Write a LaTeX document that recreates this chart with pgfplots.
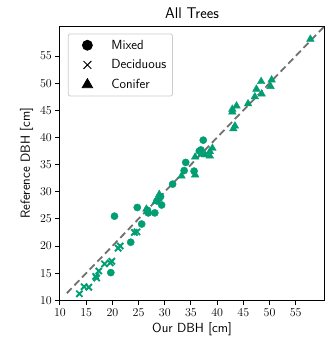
\documentclass[border=0pt]{standalone}
\usepackage{pgfplots}
\pgfplotsset{compat=1.18}
\definecolor{cbgreen}{HTML}{029E73}
\definecolor{dashgrey}{HTML}{707070}
\begin{document}
\begin{tikzpicture}
\begin{axis}[
  at={(0pt,0pt)}, anchor=south west,
  scale only axis,
  width=264pt, height=273.6pt,
  xmin=10, xmax=60.4, ymin=10, ymax=60.4,
  xtick={10,15,...,55}, ytick={10,15,...,55},
  tick align=outside, major tick length=4.6pt,
  tick style={black, line width=1pt},
  axis line style={line width=1pt},
  xtick pos=bottom, ytick pos=left,
  tick label style={font=\fontsize{13.2}{15}\selectfont},
  label style={font=\fontsize{13.2}{15}\selectfont\sffamily},
  xlabel={Our DBH [cm]}, ylabel={Reference DBH [cm]},
  title={All Trees},
  title style={font=\fontsize{15.5}{18}\selectfont\sffamily, yshift=-1pt},
  legend cell align=left,
  legend style={font=\fontsize{13.2}{15}\selectfont\sffamily, draw=black!20, rounded corners=2pt, line width=0.8pt, row sep=5pt, inner xsep=4pt, inner ysep=4pt, at={(0.03,0.975)}, anchor=north west},
  legend image code/.code={\path[draw=none,fill=none] (0cm,0cm) -- (1.3cm,0cm); \draw[#1] plot coordinates {(0.53cm,0cm)};},
]
\addplot[only marks, mark=*, mark size=3.6pt, draw=cbgreen, fill=cbgreen, forget plot] coordinates {
(20.4,25.5) (24.75,27.1) (19.7,15.1) (23.5,20.7) (25.6,24.05) (26.7,26.6) (26.85,26.1) (28.1,26.1)
(29.4,27.55) (29.2,29.1) (28.5,28.3) (31.5,31.4) (33.7,33.9) (34.0,35.4) (35.6,33.8) (36.9,37.7) (37.35,39.5) (36.6,37.5)
};
\addplot[only marks, mark=x, mark size=4.4pt, draw=cbgreen, line width=1.9pt, forget plot] coordinates {
(13.7,11.2) (14.6,12.5) (15.5,12.4) (17.0,14.1) (17.4,15.4) (18.5,16.7) (19.9,17.2) (19.6,16.9)
(21.1,19.6) (21.5,20.0) (24.2,22.5) (24.7,22.6) (16.8,14.4)
};
\addplot[only marks, mark=triangle*, mark size=4.4pt, draw=cbgreen, fill=cbgreen, forget plot] coordinates {
(57.8,58.1) (48.4,50.3) (50.4,50.6) (50.2,49.4) (47.5,48.9) (48.5,48.0) (47.2,47.5) (45.9,46.2)
(43.7,45.8) (42.9,45.2) (42.9,44.7) (43.4,42.1) (43.1,41.6) (39.1,38.0) (38.6,37.4) (38.6,36.6) (37.7,36.8)
(35.8,36.4) (35.8,33.1) (33.2,32.9) (28.95,29.5) (28.8,28.7) (28.3,28.2) (26.5,26.8) (37.0,36.9)
};
\addplot[dashgrey, line width=1.8pt, dash pattern=on 7pt off 4pt, forget plot] coordinates {(11.3,11.3) (60.4,60.4)};
\addlegendimage{black, fill=black, mark=*, mark size=5pt}
\addlegendentry{Mixed}
\addlegendimage{black, mark=x, mark size=5.5pt, line width=1pt}
\addlegendentry{Deciduous}
\addlegendimage{black, fill=black, mark=triangle*, mark size=6pt}
\addlegendentry{Conifer}
\end{axis}
\path[use as bounding box] (-60pt,-44.7pt) rectangle (275pt,300.3pt);
\end{tikzpicture}
\end{document}
